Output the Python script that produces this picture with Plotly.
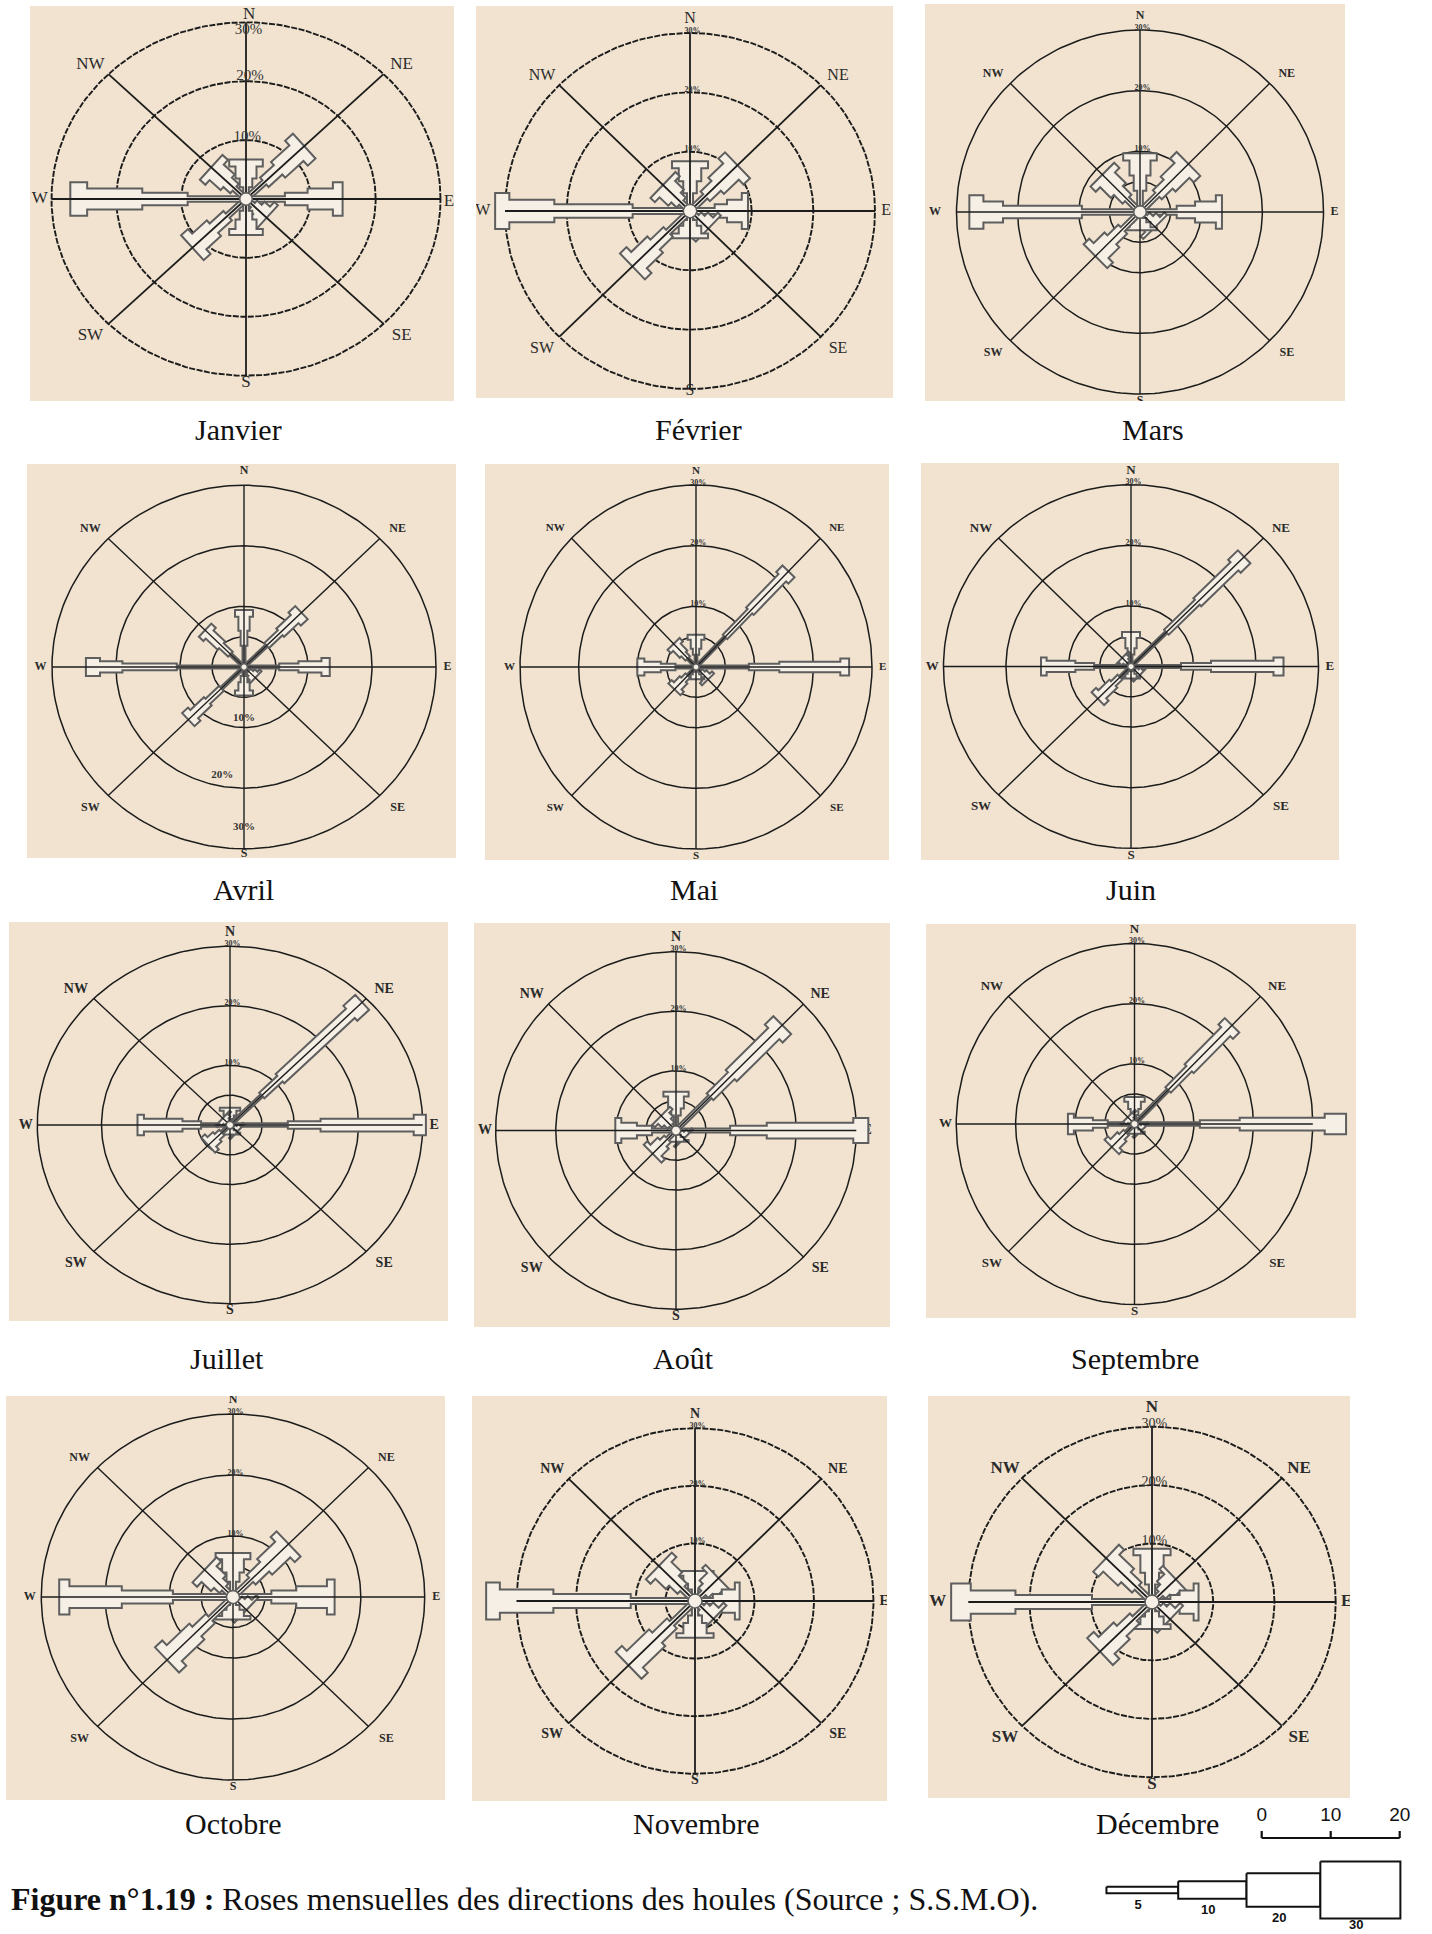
import numpy as np
import plotly.graph_objects as go

W, H = 1432, 1934

# ---------------- data ----------------
months = ["Janvier", "Février", "Mars", "Avril", "Mai", "Juin", "Juillet", "Août",
          "Septembre", "Octobre", "Novembre", "Décembre"]
directions = ["N", "NE", "E", "SE", "S", "SW", "W", "NW"]
dir_angles = [90, 45, 0, -45, -90, -135, 180, 135]
rings = [10, 20, 30]
ring_labels = ["10%", "20%", "30%"]
height_classes = ["5", "10", "20", "30"]
scale_ticks = [0, 10, 20]

# segment lengths (%) of each arm, order N, NE, E, SE, S, SW, W, NW ; classes 5 / 10 / 20 / 30
janvier = [[2, 1.5, 2, 1.2], [4, 3, 4, 1.7], [6, 3.5, 3.9, 1.5], [1.5, 1, 1.2, 0.8],
           [2, 1.5, 1.6, 1], [4, 3, 3.2, 1.5], [9, 7, 8.5, 2.6], [2.5, 1.5, 2.4, 1.2]]
fevrier = [[3, 2, 2.2, 1.2], [3.5, 2.5, 3.4, 1.5], [4, 2, 2.4, 1], [1.5, 0.8, 1.2, 0.7],
           [1.5, 1, 1.3, 0.8], [5, 3, 3.7, 1.5], [9.3, 12.7, 7.3, 2.3], [2, 1.2, 2, 1]]
mars = [[3.5, 2.5, 2.5, 1.2], [4, 2.5, 3.2, 1.5], [6, 3, 3.4, 1], [1.2, 0.8, 0.9, 0.6],
        [1, 0.7, 0.8, 0.5], [4, 2.5, 2.5, 1.3], [9.5, 12.9, 3.2, 2.3], [3, 2, 2.5, 1.2]]
avril = [[3.5, 2.5, 2.3, 1.1], [5, 3, 3.2, 1.5], [5.5, 3, 3.6, 1.3], [1, 0.5, 0.6, 0.4],
         [1.5, 1, 1.4, 0.8], [5, 3, 3, 1.3], [10.5, 8.5, 3.5, 2.2], [3, 2, 2.6, 1]]
mai = [[2, 1, 1.5, 0.8], [7, 6, 7.8, 1.5], [9, 5.2, 10.4, 1.5], [1, 0.6, 0.8, 0.5],
       [0.8, 0.4, 0.5, 0.3], [2, 1, 1.4, 0.8], [3.5, 2.5, 2.8, 1.2], [2, 1, 1.6, 0.8]]
juin = [[2, 1, 1.7, 1], [8, 7, 8.4, 2.2], [8, 4.8, 10, 1.6], [0.8, 0.4, 0.5, 0.3],
        [0.8, 0.4, 0.5, 0.3], [2.5, 1.5, 2.5, 1], [5.9, 3, 4.6, 0.9], [0.8, 0.4, 0.5, 0.3]]
juillet = [[1, 0.6, 0.8, 0.5], [7, 4, 15.5, 2.6], [9, 5.1, 14.5, 1.9], [0.6, 0.3, 0.4, 0.3],
           [0.6, 0.3, 0.4, 0.3], [1.8, 1, 1.2, 0.8], [4.5, 2.9, 6, 1], [0.6, 0.3, 0.4, 0.3]]
aout = [[2.5, 1.2, 2, 0.8], [8, 5, 10, 2], [9, 6.1, 14.4, 2.5], [0.7, 0.4, 0.5, 0.3],
        [0.7, 0.4, 0.5, 0.3], [2, 1, 1.7, 0.8], [4, 2.5, 2.6, 1], [1.2, 0.8, 0.9, 0.6]]
septembre = [[1.5, 1, 1.2, 0.8], [8, 5, 8.7, 1.5], [11, 6.7, 14.3, 3.6], [0.6, 0.3, 0.4, 0.3],
             [0.6, 0.3, 0.4, 0.3], [2, 1, 1.6, 0.8], [4.5, 2.5, 3.2, 1], [0.6, 0.3, 0.4, 0.3]]
octobre = [[2.5, 1.5, 2.2, 1], [4, 3, 4, 1.3], [6, 3.9, 4.8, 1.2], [1, 0.6, 0.9, 0.5],
           [1.3, 0.8, 1, 0.6], [5, 3, 5, 1.6], [9.4, 8, 8.2, 1.6], [2, 1.2, 2.1, 1]]
novembre = [[2, 1, 1.4, 0.8], [2, 1, 1.8, 0.8], [3, 1.5, 2.2, 0.8], [1.6, 0.8, 1.3, 0.7],
            [2.5, 1.3, 1.8, 0.8], [5.5, 3.5, 5.3, 1.5], [10.8, 13, 9, 2.3], [3, 2, 2.5, 1.1]]
decembre = [[3, 2, 3, 1.1], [2, 1, 1.7, 0.8], [3, 1.5, 2.3, 0.8], [1.5, 0.8, 1.2, 0.7],
            [1.6, 0.9, 1.3, 0.8], [4, 3, 3.5, 1.5], [9.8, 12.5, 7.3, 3.2], [3.5, 2.5, 3.4, 1.2]]

monthly_arms = [janvier, fevrier, mars, avril, mai, juin, juillet, aout,
                septembre, octobre, novembre, decembre]

# legend glyph lengths (scale units) for each class
legend_lengths = [10.4, 9.9, 10.7, 11.6]

# ---------------- layout config ----------------
panel_rects = [(30, 454, 6, 401), (476, 893, 6, 398), (925, 1345, 4, 401),
               (27, 456, 464, 858), (485, 889, 464, 860), (921, 1339, 463, 860),
               (9, 448, 922, 1321), (474, 890, 923, 1327), (926, 1356, 924, 1318),
               (6, 445, 1396, 1800), (472, 887, 1396, 1801), (928, 1350, 1396, 1798)]
panel_centres = [(246, 199), (690, 211), (1140, 212), (244, 667), (696, 667), (1131, 666.5),
                 (230, 1125), (676, 1130.5), (1134.5, 1124), (233, 1597), (695, 1601), (1152, 1602)]
panel_radii = [(194.5, 176.7), (185, 178), (183.5, 182), (192, 181.7), (176, 182), (187.5, 181.7),
               (192.7, 178.8), (180.3, 178.8), (178.3, 180.5), (191.7, 183), (178.5, 172.8),
               (183.7, 175.3)]
month_label_xy = [(238, 430), (698, 430), (1153, 430), (243, 890), (694, 890), (1131, 890),
                  (227, 1358), (683, 1358), (1135, 1358), (233, 1823), (696, 1823), (1157, 1823)]
arm_scale = [1.4, 1.5, 1.4, 0.75, 0.7, 0.75, 0.85, 1.05, 0.85, 1.45, 1.55, 1.55]
label_size = [17, 16, 12, 12, 11, 13, 14, 14, 13, 12, 14, 17]
label_bold = [False, False, True, True, True, True, True, True, True, True, True, True]
ring_dashed = [True, True, False, False, False, False, False, False, False, False, True, True]
inner_ring = [False, False, True, True, True, True, True, True, True, True, True, False]
pct_size = [15, 8, 8, 11, 8, 8, 8, 8, 8, 8, 8, 14]
half_widths = [2.0, 4.5, 7.5, 12.0]  # px, per class
label_pos = [(0, 32.3), (24, 22.8), (31.8, 0), (24, -23.2), (0, -31.2), (-24, -23.2),
             (-31.8, 0), (-24, 22.8)]
label_override = {(0, "N"): (0.5, 31.3), (1, "W"): (-33.6, 0), (2, "W"): (-33.5, 0),
                  (11, "W"): (-35.0, 0), (0, "E"): (31.3, -0.5), (1, "S"): (0, -30.4),
                  (3, "S"): (0, -30.8), (11, "N"): (0, 33.3)}
pct_override = {0: ([0.2, 0.6, 0.4], [10.4, 20.9, 28.6]),
                3: ([0, -3.4, 0], [-8.5, -17.9, -26.5])}

BG = "#f1e3d0"
INK = "#1c1c1c"
ARM_LINE = "#5e5e5e"
ARM_FILL = "#f6efe5"
SERIF = "Liberation Serif, Times New Roman, serif"
SANS = "Liberation Sans, Arial, sans-serif"

fig = go.Figure()
layout = dict(width=W, height=H, margin=dict(l=0, r=0, t=0, b=0),
              paper_bgcolor="white", plot_bgcolor="rgba(0,0,0,0)", showlegend=False)
shapes = []
annotations = []

theta = np.linspace(0, 2 * np.pi, 241)


def axis_names(n):
    s = "" if n == 1 else str(n)
    return "xaxis" + s, "yaxis" + s, "x" + s, "y" + s


for i, month in enumerate(months):
    n = i + 1
    xa, ya, xr, yr = axis_names(n)
    x0, x1, y0, y1 = panel_rects[i]
    cx, cy = panel_centres[i]
    rx, ry = panel_radii[i]
    kx, ky = rx / 30.0, ry / 30.0
    layout[xa] = dict(domain=[x0 / W, x1 / W], range=[(x0 - cx) / kx, (x1 - cx) / kx],
                      visible=False, anchor=yr, fixedrange=True)
    layout[ya] = dict(domain=[1 - y1 / H, 1 - y0 / H], range=[(cy - y1) / ky, (cy - y0) / ky],
                      visible=False, anchor=xr, fixedrange=True)
    shapes.append(dict(type="rect", xref=xr + " domain", yref=yr + " domain",
                       x0=0, x1=1, y0=0, y1=1, fillcolor=BG, line=dict(width=0), layer="below"))

    # rings
    rr = list(rings) + ([5] if inner_ring[i] else [])
    cxs, cys = [], []
    for r in rr:
        cxs += list(r * np.cos(theta)) + [None]
        cys += list(r * np.sin(theta)) + [None]
    fig.add_trace(go.Scatter(x=cxs, y=cys, mode="lines", xaxis=xr, yaxis=yr,
                             line=dict(color=INK, width=1.9 if ring_dashed[i] else 1.5,
                                       dash="6px,1.5px" if ring_dashed[i] else "solid"),
                             hoverinfo="skip"))

    # direction labels (drawn under the arms)
    lp = [label_override.get((i, d), label_pos[k]) for k, d in enumerate(directions)]
    txt = [("<b>%s</b>" % s) if label_bold[i] else s for s in directions]
    fig.add_trace(go.Scatter(x=[p[0] for p in lp], y=[p[1] for p in lp],
                             mode="text", text=txt, xaxis=xr, yaxis=yr,
                             textfont=dict(family=SERIF, size=label_size[i], color="#2a2a2a"),
                             hoverinfo="skip"))

    # arms
    arms = monthly_arms[i]
    for d, segs in enumerate(arms):
        th = np.radians(dir_angles[d])
        dx, dy = np.cos(th), np.sin(th)
        ux, uy = dx * kx, dy * ky
        nrm = np.hypot(ux, uy)
        ux, uy = ux / nrm, uy / nrm
        ox, oy = -uy / kx, ux / ky
        radii = np.concatenate([[0.0], np.cumsum(segs)])
        left, right = [], []
        for k in range(len(segs)):
            h = half_widths[k] * arm_scale[i]
            for r in (radii[k], radii[k + 1]):
                left.append((r * dx + h * ox, r * dy + h * oy))
                right.append((r * dx - h * ox, r * dy - h * oy))
        pts = left + right[::-1] + [left[0]]
        fig.add_trace(go.Scatter(x=[p[0] for p in pts], y=[p[1] for p in pts],
                                 mode="lines", fill="toself", fillcolor=ARM_FILL,
                                 line=dict(color=ARM_LINE, width=2.0), xaxis=xr, yaxis=yr,
                                 hoverinfo="skip"))

    # direction lines
    lx, ly = [], []
    for a in (90, 0, 45, 135):
        t = np.radians(a)
        lx += [-30 * np.cos(t), 30 * np.cos(t), None]
        ly += [-30 * np.sin(t), 30 * np.sin(t), None]
    fig.add_trace(go.Scatter(x=lx, y=ly, mode="lines", xaxis=xr, yaxis=yr,
                             line=dict(color=INK, width=1.8 if ring_dashed[i] else 1.4),
                             hoverinfo="skip"))

    # hub
    hr = 4.5 * arm_scale[i]
    fig.add_trace(go.Scatter(x=list(hr / kx * np.cos(theta)), y=list(hr / ky * np.sin(theta)),
                             mode="lines", fill="toself", fillcolor=ARM_FILL,
                             line=dict(color=ARM_LINE, width=1.5), xaxis=xr, yaxis=yr,
                             hoverinfo="skip"))

    # ring % labels
    if i in pct_override:
        px_, py_ = pct_override[i]
    else:
        px_ = [0.4 for _ in rings]
        py_ = [r + 0.4 for r in rings]
    if month == "Avril" or pct_size[i] < 14:
        ptxt = ["<b>%s</b>" % s for s in ring_labels]
    else:
        ptxt = ring_labels
    fig.add_trace(go.Scatter(x=px_, y=py_, mode="text", text=ptxt, xaxis=xr, yaxis=yr,
                             textfont=dict(family=SERIF, size=pct_size[i], color="#333333"),
                             hoverinfo="skip"))

    # month name
    mx, my = month_label_xy[i]
    annotations.append(dict(text=month, xref="paper", yref="paper",
                            x=mx / W, y=1 - my / H, xanchor="center", yanchor="middle",
                            showarrow=False, font=dict(family=SERIF, size=30, color="#111111")))

# ---------------- legend (scale + classes) ----------------
n = 13
xa, ya, xr, yr = axis_names(n)
lg_x0, lg_x1, zero_px, unit_px = 1090, 1425, 1261.7, 6.9
layout[xa] = dict(domain=[lg_x0 / W, lg_x1 / W],
                  range=[(lg_x0 - zero_px) / unit_px, (lg_x1 - zero_px) / unit_px],
                  visible=False, anchor=yr, fixedrange=True)
layout[ya] = dict(domain=[0, 1 - 1800 / H], range=[1934, 1800], visible=False, anchor=xr,
                  fixedrange=True)

# scale bar
bar_y, tick_h = 1838, 7
sx = [scale_ticks[0], scale_ticks[-1], None]
sy = [bar_y, bar_y, None]
for t in scale_ticks:
    sx += [t, t, None]
    sy += [bar_y, bar_y - tick_h, None]
fig.add_trace(go.Scatter(x=sx, y=sy, mode="lines", xaxis=xr, yaxis=yr,
                         line=dict(color="#111111", width=2.2), hoverinfo="skip"))
fig.add_trace(go.Scatter(x=scale_ticks, y=[1816] * len(scale_ticks), mode="text",
                         text=[str(t) for t in scale_ticks], xaxis=xr, yaxis=yr,
                         textfont=dict(family=SANS, size=19, color="#111111"), hoverinfo="skip"))

# class glyphs
legend_half_h = [3.3, 8.7, 16.7, 28.4]
start = -22.5
ycen = 1890
lab_x, lab_y = [], []
pos = start
for k, L in enumerate(legend_lengths):
    a, b = pos, pos + L
    h = legend_half_h[k]
    fig.add_trace(go.Scatter(x=[a, b, b, a, a], y=[ycen - h, ycen - h, ycen + h, ycen + h, ycen - h],
                             mode="lines", fill="toself", fillcolor="white",
                             line=dict(color="#111111", width=2), xaxis=xr, yaxis=yr,
                             hoverinfo="skip"))
    lab_x.append((a + b) / 2 - 0.6)
    lab_y.append(min(ycen + h + 12, 1926))
    pos = b
fig.add_trace(go.Scatter(x=lab_x, y=lab_y, mode="text",
                         text=["<b>%s</b>" % c for c in height_classes], xaxis=xr, yaxis=yr,
                         textfont=dict(family=SANS, size=13, color="#111111"), hoverinfo="skip",
                         cliponaxis=False))

# caption
annotations.append(dict(text="<b>Figure n°1.19 :</b> Roses mensuelles des directions des houles (Source ; S.S.M.O).",
                        xref="paper", yref="paper", x=9 / W, y=1 - 1899 / H,
                        xanchor="left", yanchor="middle", showarrow=False,
                        font=dict(family=SERIF, size=32, color="#111111")))

layout["shapes"] = shapes
layout["annotations"] = annotations
fig.update_layout(**layout)
fig.write_html("out.html", config={"displayModeBar": False},
               post_script="document.body.style.margin='0';document.body.style.padding='0';")
